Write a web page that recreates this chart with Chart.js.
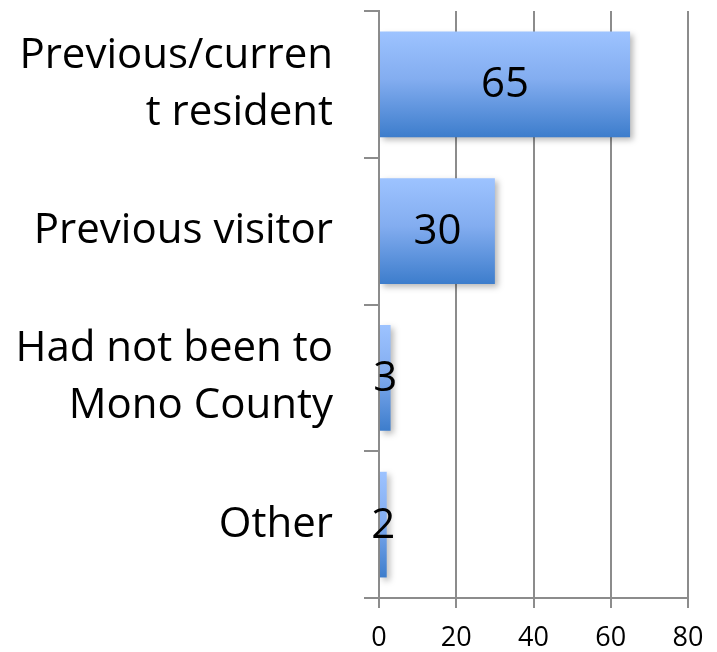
<!DOCTYPE html>
<html>
<head>
<meta charset="utf-8">
<script src="https://cdn.jsdelivr.net/npm/chart.js@4/dist/chart.umd.min.js"></script>
<style>
  html, body { margin: 0; padding: 0; background: #fff; }
  #wrap { width: 717px; height: 652px; }
</style>
</head>
<body>
<div id="wrap"><canvas id="barChart"></canvas></div>
<script>
// 数据
const categories = [
    ['Previous/curren', 't resident'],
    'Previous visitor',
    ['Had not been to', 'Mono County'],
    'Other',
];
const counts = [65, 30, 3, 2];
const xTicks = [0, 20, 40, 60, 80];

const axisGray = '#8c8c8c';
const fontFamily = '"Open Sans", sans-serif';

// 每个柱子的竖向渐变
function barGradient(context) {
    const chart = context.chart;
    const bar = chart.getDatasetMeta(0).data[context.dataIndex];
    if (!chart.chartArea || !bar || bar.height === undefined || isNaN(bar.y)) {
        return '#6a9ee8';
    }
    const top = bar.y - bar.height / 2;
    const bottom = bar.y + bar.height / 2;
    const g = chart.ctx.createLinearGradient(0, top, 0, bottom);
    g.addColorStop(0, '#9dc3ff');
    g.addColorStop(0.45, '#83adf0');
    g.addColorStop(1, '#3d7dcc');
    return g;
}

// 柱子阴影
const shadowPlugin = {
    id: 'barShadow',
    beforeDatasetsDraw(chart) {
        const ctx = chart.ctx;
        ctx.save();
        ctx.shadowColor = 'rgba(0,0,0,0.28)';
        ctx.shadowBlur = 6;
        ctx.shadowOffsetX = 3;
        ctx.shadowOffsetY = 3;
    },
    afterDatasetsDraw(chart) {
        chart.ctx.restore();
    },
};

// 数值标签 (柱子中间)
const valueLabels = {
    id: 'valueLabels',
    afterDatasetsDraw(chart) {
        const ctx = chart.ctx;
        const meta = chart.getDatasetMeta(0);
        ctx.save();
        ctx.font = '42px ' + fontFamily;
        ctx.fillStyle = '#000';
        ctx.textAlign = 'center';
        ctx.textBaseline = 'middle';
        meta.data.forEach((bar, i) => {
            const cx = (bar.x + bar.base) / 2;
            ctx.fillText(String(counts[i]), cx, bar.y + 1);
        });
        ctx.restore();
    },
};

const ctx = document.getElementById('barChart').getContext('2d');
const chart = new Chart(ctx, {
    type: 'bar',
    data: {
        labels: categories,
        datasets: [
            {
                data: counts,
                backgroundColor: barGradient,
                borderWidth: 0,
                barPercentage: 0.72,
                categoryPercentage: 1,
            },
        ],
    },
    options: {
        indexAxis: 'y',
        responsive: true,
        maintainAspectRatio: false,
        animation: false,
        layout: {
            padding: { top: 11, right: 29, left: 0, bottom: 0 },
        },
        plugins: {
            legend: { display: false },
            tooltip: { enabled: false },
        },
        scales: {
            x: {
                min: 0,
                max: 80,
                afterBuildTicks(scale) {
                    scale.ticks = xTicks.map(v => ({ value: v }));
                },
                afterFit(scale) {
                    scale.height = 54;
                    scale.paddingLeft = 0;
                    scale.paddingRight = 0;
                },
                grid: {
                    color: axisGray,
                    lineWidth: 2,
                    tickLength: 10,
                },
                border: { color: axisGray, width: 2 },
                ticks: {
                    color: '#000',
                    padding: 14,
                    font: { family: fontFamily, size: 27 },
                    maxRotation: 0,
                },
            },
            y: {
                offset: true,
                afterFit(scale) {
                    scale.width = 379;
                    scale.paddingTop = 0;
                    scale.paddingBottom = 0;
                },
                grid: {
                    offset: true,
                    drawOnChartArea: false,
                    color: axisGray,
                    lineWidth: 2,
                    tickLength: 15,
                },
                border: { color: axisGray, width: 2 },
                ticks: {
                    color: '#000',
                    padding: 31,
                    font: { family: fontFamily, size: 42, lineHeight: 1.36 },
                },
            },
        },
    },
    plugins: [shadowPlugin, valueLabels],
});
chart.update();
</script>
</body>
</html>
